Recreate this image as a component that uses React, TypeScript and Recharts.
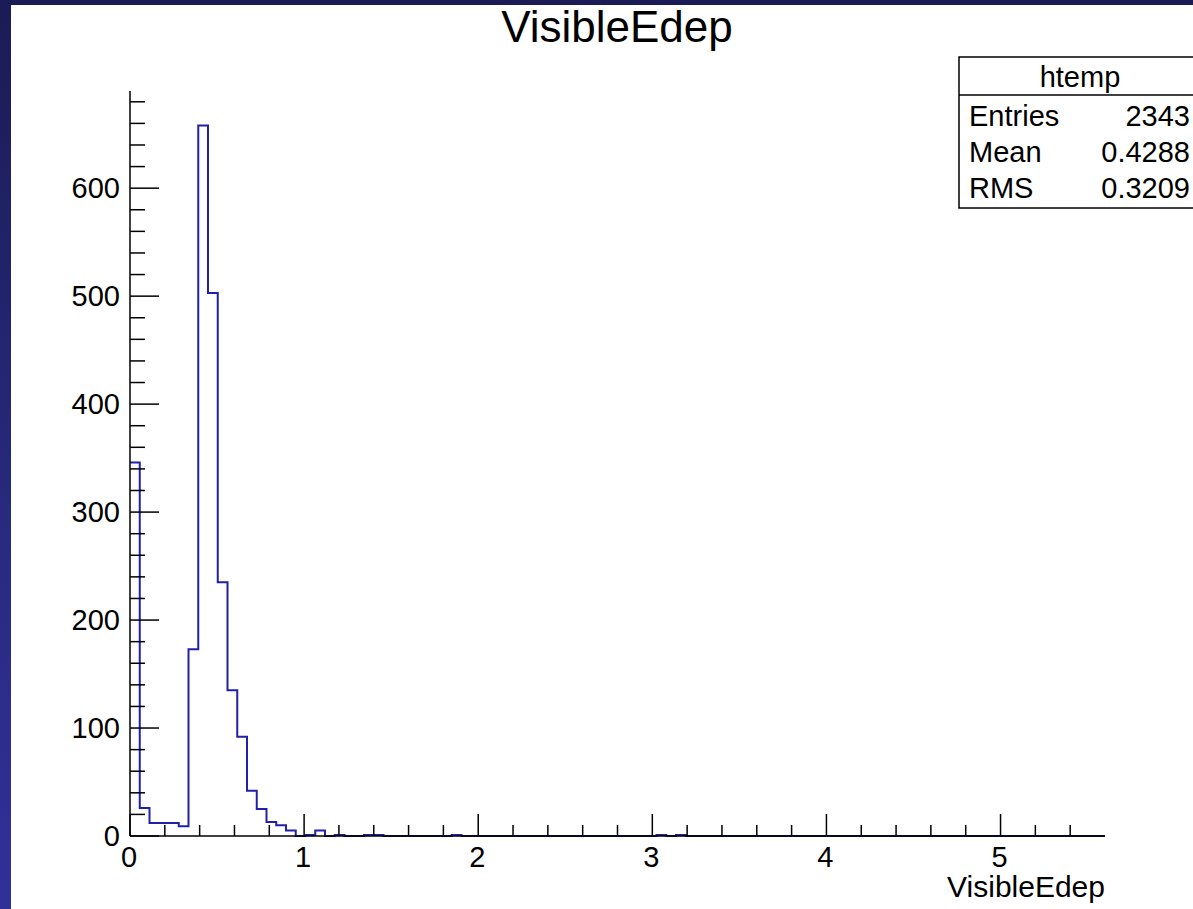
import React from 'react';
import { ComposedChart, Line, XAxis, YAxis } from 'recharts';

// histogram: 100 bins from 0 to 5.6
const X_MAX = 5.6;
const Y_MAX = 690;
const BIN_WIDTH = 0.056;

const BIN_COUNTS = [
  346, 26, 12, 12, 12, 9, 173, 658, 503, 235,
  135, 92, 42, 25, 13, 10, 5, 0, 1, 5,
  0, 1, 0, 0, 1, 1, 0, 0, 0, 0,
  0, 0, 0, 1, 0, 0, 0, 0, 0, 0,
  0, 0, 0, 0, 0, 0, 0, 0, 0, 0,
  0, 0, 0, 0, 1, 0, 1, 0, 0, 0,
  0, 0, 0, 0, 0, 0, 0, 0, 0, 0,
  0, 0, 0, 0, 0, 0, 0, 0, 0, 0,
  0, 0, 0, 0, 0, 0, 0, 0, 0, 0,
  0, 0, 0, 0, 0, 0, 0, 0, 0, 0,
];

const X_TICKS = [
  0, 0.2, 0.4, 0.6, 0.8, 1, 1.2, 1.4, 1.6, 1.8, 2, 2.2, 2.4, 2.6, 2.8,
  3, 3.2, 3.4, 3.6, 3.8, 4, 4.2, 4.4, 4.6, 4.8, 5, 5.2, 5.4,
];
const Y_TICKS = [
  0, 20, 40, 60, 80, 100, 120, 140, 160, 180, 200, 220, 240, 260, 280,
  300, 320, 340, 360, 380, 400, 420, 440, 460, 480, 500, 520, 540, 560,
  580, 600, 620, 640, 660, 680,
];

const STATS = [
  { label: 'Entries', value: '2343' },
  { label: 'Mean', value: '0.4288' },
  { label: 'RMS', value: '0.3209' },
];

const FONT = '"Liberation Sans", Arial, Helvetica, sans-serif';

// step line needs a closing point at the right edge
const histData = BIN_COUNTS.map((count, i) => ({ x: i * BIN_WIDTH, count }));
histData.push({ x: X_MAX, count: BIN_COUNTS[BIN_COUNTS.length - 1] });

const isMajor = (v: number, step: number) => Math.abs(v / step - Math.round(v / step)) < 1e-6;

function XTick({ x, y, payload }: any) {
  const major = isMajor(payload.value, 1);
  return (
    <g>
      <line x1={x} y1={y} x2={x} y2={y - (major ? 22 : 11)} stroke="#000" strokeWidth={1.5} />
      {major && (
        <text x={x - 1} y={y + 31} textAnchor="middle" fontSize={29} fontFamily={FONT} fill="#000">
          {payload.value}
        </text>
      )}
    </g>
  );
}

function YTick({ x, y, payload }: any) {
  const major = isMajor(payload.value, 100);
  return (
    <g>
      <line x1={x} y1={y} x2={x + (major ? 29 : 15)} y2={y} stroke="#000" strokeWidth={1.5} />
      {major && (
        <text x={x - 10} y={y + 10} textAnchor="end" fontSize={29} fontFamily={FONT} fill="#000">
          {payload.value}
        </text>
      )}
    </g>
  );
}

export default function App() {
  return (
    <div
      style={{
        position: 'fixed',
        left: 0,
        top: 0,
        width: 1193,
        height: 909,
        overflow: 'hidden',
        background: 'linear-gradient(180deg, #1b1b55 0%, #2a2a80 60%, #30309a 100%)',
      }}
    >
      <div style={{ position: 'absolute', left: 11, top: 5, width: 1182, height: 904, background: '#fff' }}>
        <ComposedChart
          width={1182}
          height={904}
          data={histData}
          margin={{ top: 86, right: 88, bottom: 0, left: 0 }}
        >
          <XAxis
            dataKey="x"
            type="number"
            domain={[0, X_MAX]}
            ticks={X_TICKS}
            interval={0}
            height={73}
            tickSize={0}
            tickMargin={0}
            tickLine={false}
            axisLine={{ stroke: '#000', strokeWidth: 1.5 }}
            tick={<XTick />}
          />
          <XAxis
            xAxisId="top"
            orientation="top"
            dataKey="x"
            type="number"
            domain={[0, X_MAX]}
            height={0}
            tick={false}
            tickLine={false}
            axisLine={{ stroke: '#000', strokeWidth: 1.5 }}
          />
          <YAxis
            type="number"
            domain={[0, Y_MAX]}
            ticks={Y_TICKS}
            interval={0}
            width={119}
            tickSize={0}
            tickMargin={0}
            tickLine={false}
            axisLine={{ stroke: '#000', strokeWidth: 1.5 }}
            tick={<YTick />}
          />
          <YAxis
            yAxisId="right"
            orientation="right"
            type="number"
            domain={[0, Y_MAX]}
            width={0}
            tick={false}
            tickLine={false}
            axisLine={{ stroke: '#000', strokeWidth: 1.5 }}
          />
          <Line
            dataKey="count"
            type="stepAfter"
            stroke="#2020aa"
            strokeWidth={2}
            dot={false}
            activeDot={false}
            isAnimationActive={false}
          />
        </ComposedChart>
      </div>

      <svg
        width={1193}
        height={909}
        style={{ position: 'absolute', left: 0, top: 0, pointerEvents: 'none' }}
        fontFamily={FONT}
      >
        <text x={617} y={42} textAnchor="middle" fontSize={44} fill="#000">
          VisibleEdep
        </text>
        <text x={1105} y={897} textAnchor="end" fontSize={30} fill="#000">
          VisibleEdep
        </text>

        <rect x={959} y={57} width={242} height={151} fill="#fff" stroke="#000" strokeWidth={1.5} />
        <line x1={959} y1={95} x2={1201} y2={95} stroke="#000" strokeWidth={1.5} />
        <text x={1080} y={87} textAnchor="middle" fontSize={29} fill="#000">
          htemp
        </text>
        {STATS.map((s, i) => (
          <g key={s.label}>
            <text x={969} y={126 + i * 36.2} fontSize={29} fill="#000">
              {s.label}
            </text>
            <text x={1190} y={126 + i * 36.2} textAnchor="end" fontSize={29} fill="#000">
              {s.value}
            </text>
          </g>
        ))}
      </svg>
    </div>
  );
}
